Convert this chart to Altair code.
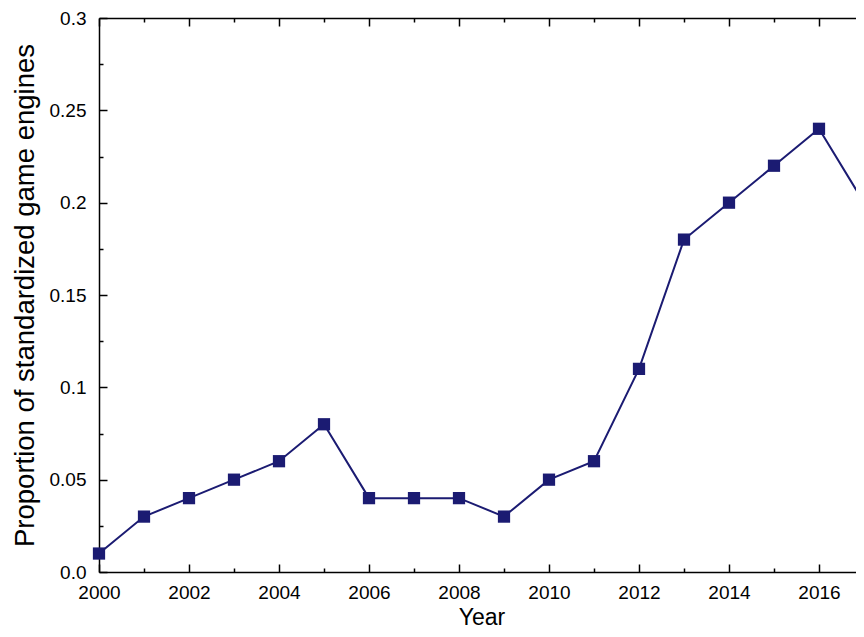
import altair as alt
import pandas as pd

years = [2000, 2001, 2002, 2003, 2004, 2005, 2006, 2007, 2008,
         2009, 2010, 2011, 2012, 2013, 2014, 2015, 2016, 2017]
values = [0.01, 0.03, 0.04, 0.05, 0.06, 0.08, 0.04, 0.04, 0.04,
          0.03, 0.05, 0.06, 0.11, 0.18, 0.20, 0.22, 0.24, 0.20]
x_major = [2000, 2002, 2004, 2006, 2008, 2010, 2012, 2014, 2016]
x_minor = [2001, 2003, 2005, 2007, 2009, 2011, 2013, 2015, 2017]
y_major = [0.0, 0.05, 0.1, 0.15, 0.2, 0.25, 0.3]
y_minor = [0.025, 0.075, 0.125, 0.175, 0.225, 0.275]

PLOT_W, H = 765, 554      # full plot extent (right edge falls at the window edge)
VIEW_W = 757              # visible part of the plot inside the page
NAVY = "#1b1b72"
FONT = "Liberation Sans"

df = pd.DataFrame({"year": years, "value": values})

xscale = alt.Scale(domain=[2000, 2017], nice=False, zero=False, range=[0, PLOT_W])
yscale = alt.Scale(domain=[0, 0.3], nice=False, zero=True)

common = dict(grid=False, domainColor="black", domainWidth=1.5,
              tickColor="black", tickWidth=1.5, labels=False)

x_main = alt.X("year:Q", scale=xscale, title="Year",
               axis=alt.Axis(orient="bottom", values=x_major, format="d",
                             ticks=False, tickSize=0, grid=False,
                             domainColor="black", domainWidth=1.5,
                             labelFont=FONT, labelFontSize=19, labelFlush=False,
                             labelOverlap=False, labelColor="black", labelPadding=11,
                             titleFont=FONT, titleFontSize=23, titleFontWeight="normal",
                             titleColor="black", titlePadding=4))
y_main = alt.Y("value:Q", scale=yscale, title="Proportion of standardized game engines",
               axis=alt.Axis(orient="left", values=y_major,
                             labelExpr="datum.value == 0 ? '0.0' : format(datum.value, '.2~f')",
                             ticks=False, tickSize=0, grid=False,
                             domainColor="black", domainWidth=1.5,
                             labelFont=FONT, labelFontSize=19, labelFlush=False,
                             labelOverlap=False, labelColor="black", labelPadding=13,
                             titleFont=FONT, titleFontSize=27.5, titleFontWeight="normal",
                             titleColor="black", titlePadding=10))

line = alt.Chart(df).mark_line(color=NAVY, strokeWidth=2).encode(x=x_main, y=y_main)
pts = alt.Chart(df).mark_square(color=NAVY, size=150, opacity=1).encode(
    x=alt.X("year:Q", scale=xscale, axis=None),
    y=alt.Y("value:Q", scale=yscale, axis=None))


def tick_layer(x_orient, y_orient, xvals, yvals, size, domain, y_offset):
    return alt.Chart(df).mark_point(opacity=0).encode(
        x=alt.X("year:Q", scale=xscale, title=None,
                axis=alt.Axis(orient=x_orient, offset=-H, values=xvals,
                              domain=domain, tickSize=size, **common)),
        y=alt.Y("value:Q", scale=yscale, title=None,
                axis=alt.Axis(orient=y_orient, offset=y_offset, values=yvals,
                              domain=domain, tickSize=size, **common)))


# inward ticks: left/bottom edges (axes flipped and moved onto the opposite edge)
lb_major = tick_layer("top", "right", x_major, y_major, 8, False, -VIEW_W)
lb_minor = tick_layer("top", "right", x_minor, y_minor, 4, False, -VIEW_W)
# inward ticks: top/right edges, with the border lines
rt_major = tick_layer("bottom", "left", x_major, y_major, 8, True, -PLOT_W)
rt_minor = tick_layer("bottom", "left", x_minor, y_minor, 4, False, -PLOT_W)

chart = alt.layer(line, pts, lb_major, lb_minor, rt_major, rt_minor).resolve_axis(
    x="independent", y="independent"
).properties(
    width=VIEW_W, height=H,
    autosize=alt.AutoSizeParams(type="none"),
    padding={"left": 91, "top": 10, "right": 0, "bottom": 57},
    background="white",
).configure_view(strokeWidth=0)

chart.save("out.html", embed_options={"renderer": "svg", "actions": False})
